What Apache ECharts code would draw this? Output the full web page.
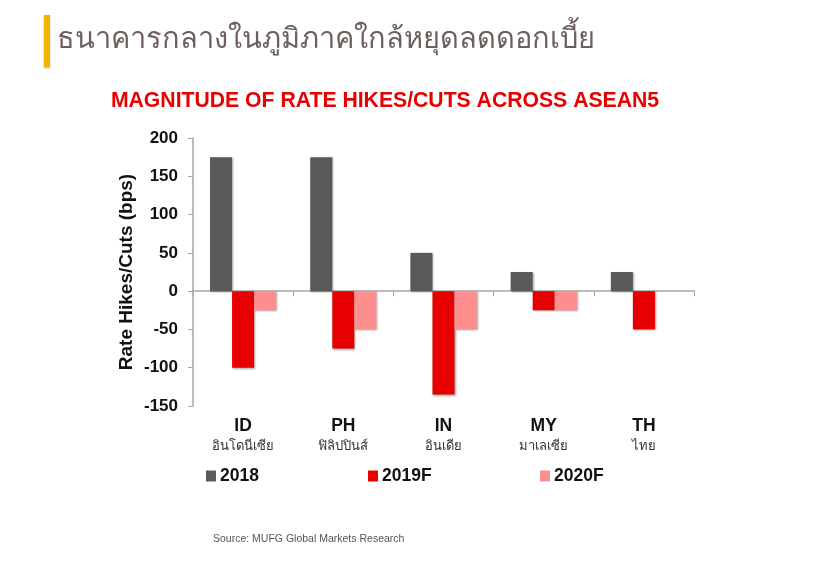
<!DOCTYPE html>
<html>
<head>
<meta charset="utf-8">
<script src="https://cdn.jsdelivr.net/npm/echarts@6/dist/echarts.min.js"></script>
<style>
html,body{margin:0;padding:0;background:#fff;}
#c{width:822px;height:578px;}
</style>
</head>
<body>
<div id="c"></div>
<script>
const categories = ['ID', 'PH', 'IN', 'MY', 'TH'];
const categoriesThai = ['อินโดนีเซีย', 'ฟิลิปปินส์', 'อินเดีย', 'มาเลเซีย', 'ไทย'];
const seriesNames = ['2018', '2019F', '2020F'];
const values2018 = [175, 175, 50, 25, 25];
const values2019F = [-100, -75, -135, -25, -50];
const values2020F = [-25, -50, -50, -25, null];
const colors = ['#595959', '#e60000', '#ff8f8f'];
const yTicks = { min: -150, max: 200, interval: 50 };

const chart = echarts.init(document.getElementById('c'));
const barShadow = { shadowBlur: 2, shadowOffsetX: 1, shadowOffsetY: 1, shadowColor: 'rgba(0,0,0,0.35)' };
const allValues = [values2018, values2019F, values2020F];
const legendLeft = [206, 368, 540];
const font = 'Liberation Sans, Arial, sans-serif';

chart.setOption({
  backgroundColor: '#ffffff',
  animation: false,
  title: [
    {
      text: 'ธนาคารกลางในภูมิภาคใกล้หยุดลดดอกเบี้ย',
      left: 52, top: 20,
      textStyle: { fontSize: 29, fontWeight: 'normal', color: '#6e5f5f', fontFamily: 'sans-serif' }
    },
    {
      text: 'MAGNITUDE OF RATE HIKES/CUTS ACROSS ASEAN5',
      left: 380, top: 86, textAlign: 'center',
      textStyle: { fontSize: 21.2, fontWeight: 'bold', color: '#e60000', fontFamily: font }
    },
    {
      text: 'Source: MUFG Global Markets Research',
      left: 208, top: 529,
      textStyle: { fontSize: 10.5, fontWeight: 'normal', color: '#555', fontFamily: font }
    }
  ],
  graphic: [
    { type: 'rect', shape: { x: 44, y: 15, width: 6, height: 52 }, style: { fill: '#f0b400', shadowBlur: 2, shadowOffsetY: 1, shadowColor: 'rgba(0,0,0,0.3)' } }
  ],
  legend: seriesNames.map((n, i) => ({
    data: [n],
    left: legendLeft[i], top: 467, padding: 0,
    itemWidth: 10, itemHeight: 11, itemGap: 0,
    icon: 'rect',
    textStyle: { fontSize: 17.5, fontWeight: 'bold', color: '#111', fontFamily: font, padding: [0, 0, 0, -1] }
  })),
  grid: { left: 193, right: 128, top: 138, bottom: 172 },
  xAxis: [
    {
      type: 'category', data: categories,
      axisLine: { onZero: true, lineStyle: { color: '#a6a6a6', width: 1.5 } },
      axisTick: { show: true, length: 5, lineStyle: { color: '#a6a6a6' } },
      axisLabel: { show: false }
    },
    {
      type: 'category', data: categories, position: 'bottom',
      axisLine: { show: false }, axisTick: { show: false },
      axisLabel: {
        margin: 10,
        formatter: (v, i) => '{a|' + v + '}\n{b|' + categoriesThai[i] + '}',
        rich: {
          a: { fontSize: 17.5, fontWeight: 'bold', color: '#111', fontFamily: font, lineHeight: 20 },
          b: { fontSize: 13, color: '#333', fontFamily: 'sans-serif', lineHeight: 20 }
        }
      }
    }
  ],
  yAxis: {
    type: 'value', min: yTicks.min, max: yTicks.max, interval: yTicks.interval,
    name: 'Rate Hikes/Cuts (bps)', nameLocation: 'middle', nameGap: 57, nameMoveOverlap: false,
    nameTextStyle: { fontSize: 19, fontWeight: 'bold', color: '#111', fontFamily: font },
    axisLine: { show: true, lineStyle: { color: '#a6a6a6', width: 1.5 } },
    axisTick: { show: true, length: 5, lineStyle: { color: '#a6a6a6' } },
    splitLine: { show: false },
    axisLabel: { fontSize: 17, fontWeight: 'bold', color: '#111', margin: 15, fontFamily: font }
  },
  series: seriesNames.map((n, i) => ({
    name: n, type: 'bar', data: allValues[i], xAxisIndex: 0,
    barGap: '0%', barCategoryGap: '34%',
    itemStyle: Object.assign({ color: colors[i] }, barShadow)
  }))
});
</script>
</body>
</html>
